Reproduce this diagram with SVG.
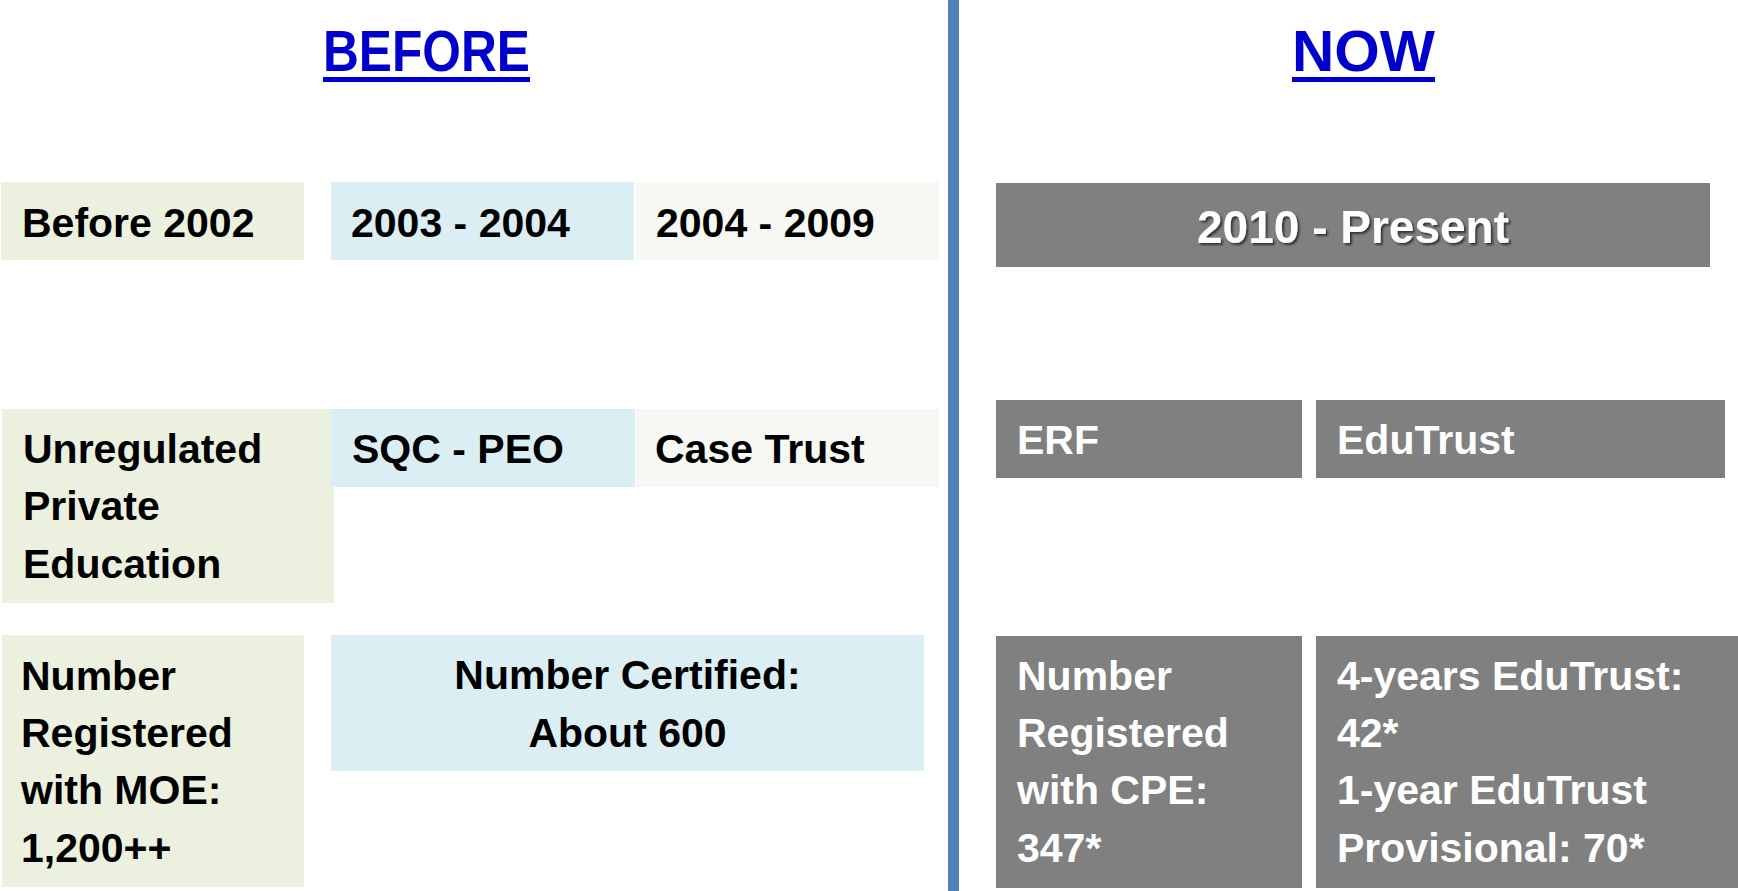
<svg xmlns="http://www.w3.org/2000/svg" width="1738" height="891" viewBox="0 0 1738 891">
<defs>
<filter id="sh" x="-10%" y="-20%" width="130%" height="160%">
<feDropShadow dx="2" dy="2" stdDeviation="1.2" flood-color="#000" flood-opacity="0.6"/>
</filter>
<style>
text{font-family:"Liberation Sans",Arial,sans-serif;font-weight:bold}
.t{font-size:41px;fill:#000}
.w{font-size:41px;fill:#fff}
.h{font-size:58px;fill:#0000CC}
.g{fill:#EBF1DE}
.b{fill:#DBEEF3}
.p{fill:#F7F7F4}
.d{fill:#808080}
</style>
</defs>
<rect width="1738" height="891" fill="#fff"/>
<g id="divider"><rect x="948" y="0" width="11" height="891" fill="#4F81BD"/></g>
<g id="title-before">
<text class="h" x="426.5" y="71" text-anchor="middle" textLength="207" lengthAdjust="spacingAndGlyphs">BEFORE</text>
<rect x="323" y="77" width="207" height="5" fill="#0000CC"/>
</g>
<g id="title-now">
<text class="h" x="1363.5" y="71" text-anchor="middle" textLength="143" lengthAdjust="spacingAndGlyphs">NOW</text>
<rect x="1292" y="77" width="143" height="5" fill="#0000CC"/>
</g>
<g id="before-2002"><rect class="g" x="1" y="182" width="303" height="78"/><text class="t" x="22" y="237">Before 2002</text></g>
<g id="y2003-2004"><rect class="b" x="331" y="182" width="303" height="78"/><text class="t" x="351" y="237">2003 - 2004</text></g>
<g id="y2004-2009"><rect class="p" x="636" y="182" width="303" height="78"/><text class="t" x="656" y="237">2004 - 2009</text></g>
<g id="y2010-present"><rect class="d" x="996" y="183" width="714" height="84"/><text x="1353" y="243" text-anchor="middle" font-size="46" fill="#fff" filter="url(#sh)">2010 - Present</text></g>
<g id="unregulated"><rect class="g" x="2" y="409" width="332" height="194"/>
<text class="t" x="23" y="463">Unregulated</text><text class="t" x="23" y="520">Private</text><text class="t" x="23" y="578">Education</text></g>
<g id="sqc-peo"><rect class="b" x="331" y="409" width="304" height="78"/><text class="t" x="352" y="463">SQC - PEO</text></g>
<g id="case-trust"><rect class="p" x="636" y="409" width="303" height="78"/><text class="t" x="655" y="463">Case Trust</text></g>
<g id="erf"><rect class="d" x="996" y="400" width="306" height="78"/><text class="w" x="1017" y="454">ERF</text></g>
<g id="edutrust"><rect class="d" x="1316" y="400" width="409" height="78"/><text class="w" x="1337" y="454">EduTrust</text></g>
<g id="registered-moe"><rect class="g" x="2" y="635" width="302" height="252"/>
<text class="t" x="21" y="690">Number</text><text class="t" x="21" y="747">Registered</text><text class="t" x="21" y="804">with MOE:</text><text class="t" x="21" y="862">1,200++</text></g>
<g id="number-certified"><rect class="b" x="331" y="635" width="593" height="136"/>
<text class="t" x="627.5" y="689" text-anchor="middle">Number Certified:</text><text class="t" x="627.5" y="747" text-anchor="middle">About 600</text></g>
<g id="registered-cpe"><rect class="d" x="996" y="636" width="306" height="252"/>
<text class="w" x="1017" y="690">Number</text><text class="w" x="1017" y="747">Registered</text><text class="w" x="1017" y="804">with CPE:</text><text class="w" x="1017" y="862">347*</text></g>
<g id="edutrust-counts"><rect class="d" x="1316" y="636" width="422" height="252"/>
<text class="w" x="1337" y="690">4-years EduTrust:</text><text class="w" x="1337" y="747">42*</text><text class="w" x="1337" y="804">1-year EduTrust</text><text class="w" x="1337" y="862">Provisional: 70*</text></g>
<g id="connectors"/>
</svg>
